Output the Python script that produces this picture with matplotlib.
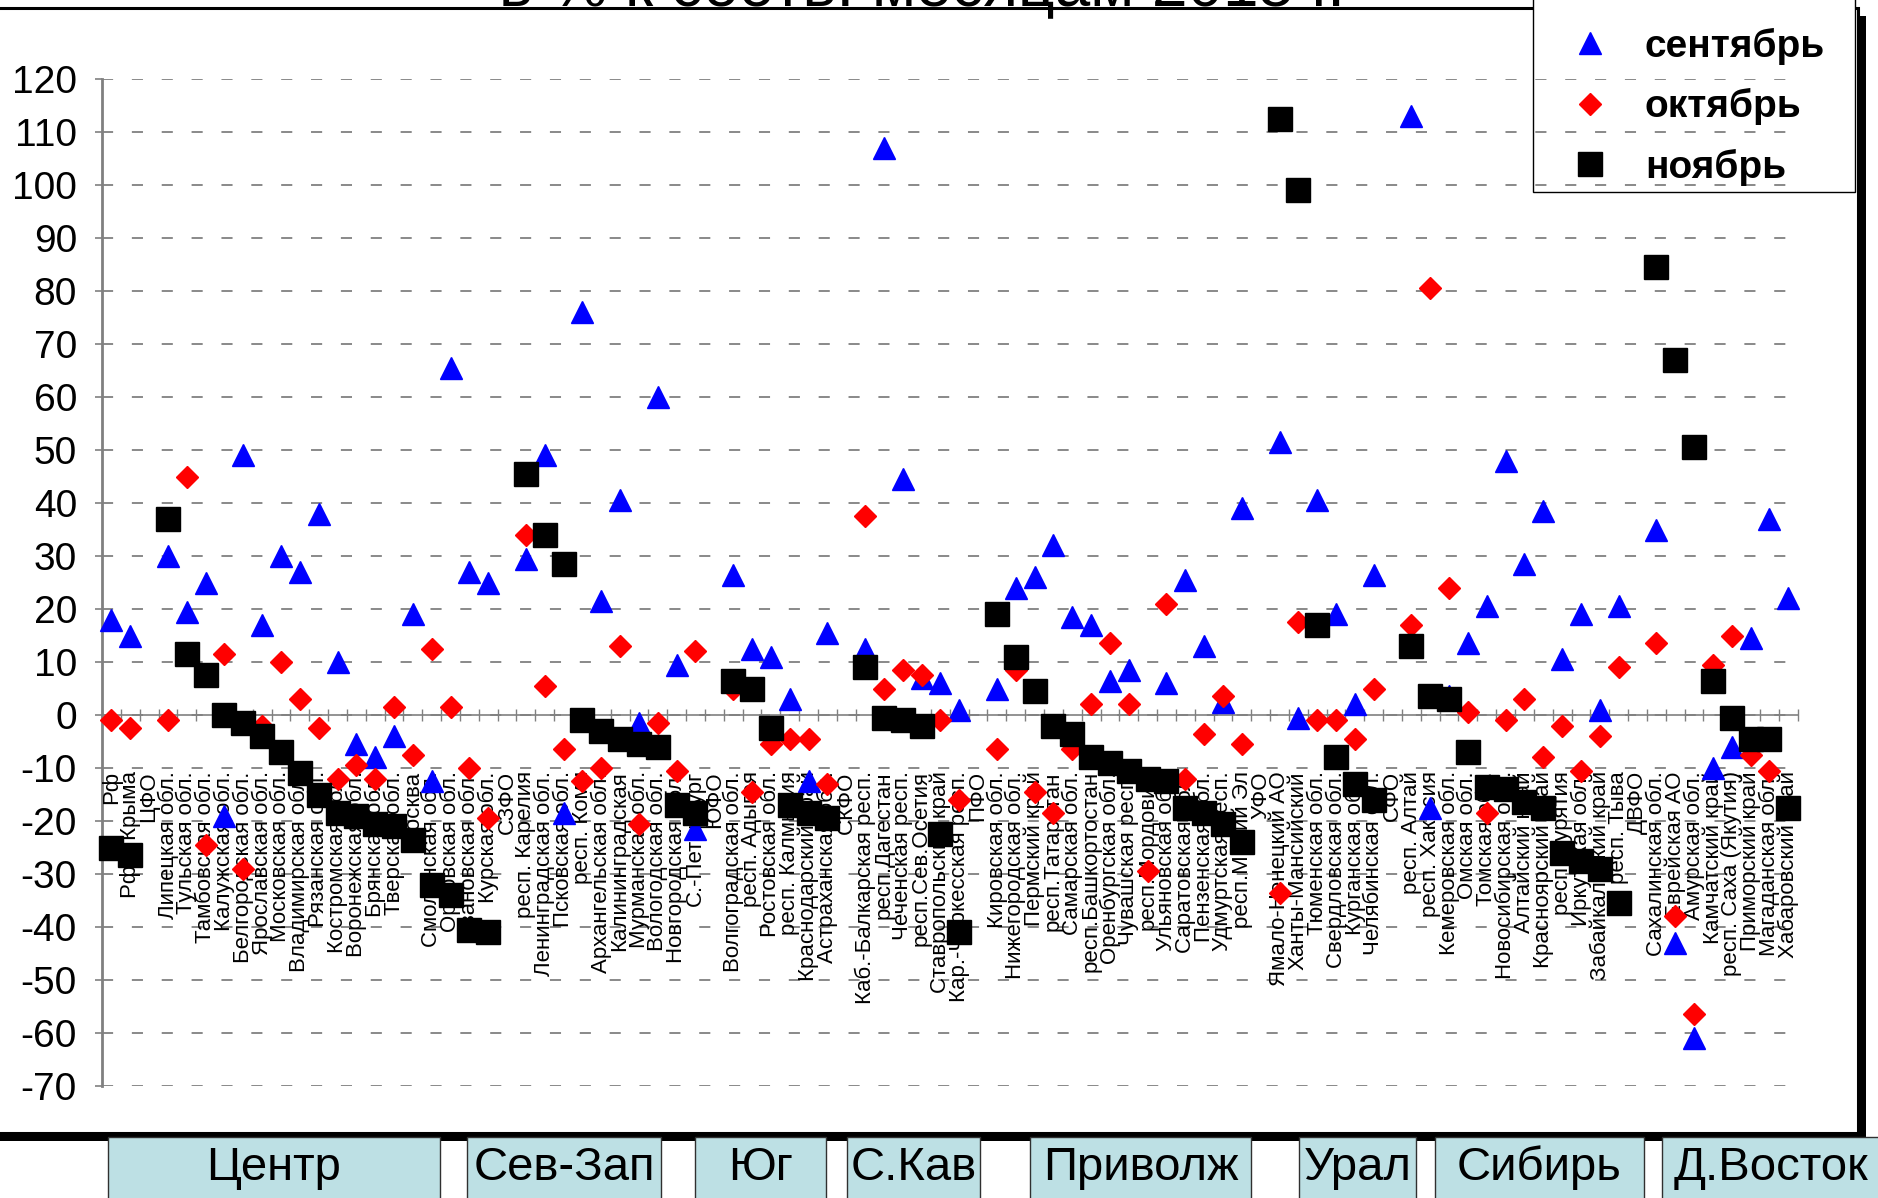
import numpy as np
import matplotlib.pyplot as plt
from matplotlib.patches import Rectangle

plt.rcParams['font.family'] = ['Liberation Sans', 'DejaVu Sans']
plt.rcParams['axes.unicode_minus'] = False
plt.rcParams['lines.scale_dashes'] = False

nan = np.nan

# regions (district rows have no data)
categories = [
    'Рф', 'Рф б Крыма', 'ЦФО', 'Липецкая обл.', 'Тульская обл.', 'Тамбовская обл.',
    'Калужская обл.', 'Белгородская обл.', 'Ярославская обл.', 'Московская обл.',
    'Владимирская обл.', 'Рязанская обл.', 'Костромская обл.', 'Воронежская обл.',
    'Брянская обл.', 'Тверская обл.', 'Москва', 'Смоленская обл.', 'Орловская обл.',
    'Ивановская обл.', 'Курская обл.', 'СЗФО', 'респ. Карелия', 'Ленинградская обл.',
    'Псковская обл.', 'респ. Коми', 'Архангельская обл.', 'Калининградская',
    'Мурманская обл.', 'Вологодская обл.', 'Новгородская обл.', 'С.-Петербург', 'ЮФО',
    'Волгоградская обл.', 'респ. Адыгея', 'Ростовская обл.', 'респ. Калмыкия',
    'Краснодарский край', 'Астраханская обл.', 'СКФО', 'Каб.-Балкарская респ.',
    'респ.Дагестан', 'Чеченская респ.', 'респ.Сев.Осетия', 'Ставропольский край',
    'Кар.-Черкесская респ.', 'ПФО', 'Кировская обл.', 'Нижегородская обл.',
    'Пермский край', 'респ.Татарстан', 'Самарская обл.', 'респ.Башкортостан',
    'Оренбургская обл.', 'Чувашская респ.', 'респ.Мордовия', 'Ульяновская обл.',
    'Саратовская обл.', 'Пензенская обл.', 'Удмуртская респ.', 'респ.Марий Эл', 'УФО',
    'Ямало-Ненецкий АО', 'Ханты-Мансийский', 'Тюменская обл.', 'Свердловская обл.',
    'Курганская обл.', 'Челябинская обл.', 'СФО', 'респ. Алтай', 'респ. Хакасия',
    'Кемеровская обл.', 'Омская обл.', 'Томская обл.', 'Новосибирская обл.',
    'Алтайский край', 'Красноярский край', 'респ. Бурятия', 'Иркутская обл.',
    'Забайкальский край', 'респ. Тыва', 'ДВФО', 'Сахалинская обл.', 'Еврейская АО',
    'Амурская обл.', 'Камчатский край', 'респ. Саха (Якутия)', 'Приморский край',
    'Магаданская обл.', 'Хабаровский край',
]

sep = [18, 15, nan, 30, 19.5, 25, -19, 49, 17, 30,
       27, 38, 10, -5.5, -8, -4, 19, -12.5, 65.5, 27,
       25, nan, 29.5, 49, -18.5, 76, 21.5, 40.5, -1.5, 60,
       9.5, -21.5, nan, 26.5, 12.5, 11, 3, -12.5, 15.5, nan,
       12.5, 107, 44.5, 7, 6, 1, nan, 5, 24, 26,
       32, 18.5, 17, 6.5, 8.5, -12, 6, 25.5, 13, 2.5,
       39, nan, 51.5, -0.5, 40.5, 19, 2, 26.5, nan, 113,
       -17.5, 3.5, 13.5, 20.5, 48, 28.5, 38.5, 10.5, 19, 1,
       20.5, nan, 35, -43, -61, -10, -6, 14.5, 37, 22]

octo = [-1, -2.5, nan, -1, 45, -24.5, 11.5, -29, -2, 10,
        3, -2.5, -12, -9.5, -12, 1.5, -7.5, 12.5, 1.5, -10,
        -19.5, nan, 34, 5.5, -6.5, -12.5, -10, 13, -20.5, -1.5,
        -10.5, 12, nan, 5, -14.5, -5.5, -4.5, -4.5, -13, nan,
        37.5, 5, 8.5, 7.5, -1, -16, nan, -6.5, 8.5, -14.5,
        -18.5, -6.5, 2, 13.5, 2, -29.5, 21, -12, -3.5, 3.5,
        -5.5, nan, -33.5, 17.5, -1, -1, -4.5, 5, nan, 17,
        80.5, 24, 0.5, -18.5, -1, 3, -8, -2, -10.5, -4,
        9, nan, 13.5, -38, -56.5, 9.5, 15, -7.5, -10.5, -17.5]

nov = [-25, -26.5, nan, 37, 11.5, 7.5, 0, -1.5, -4, -7,
       -11, -15, -18.5, -19, -20.5, -21, -23.5, -32, -34, -40.5,
       -41, nan, 45.5, 34, 28.5, -1, -3, -4.5, -5.5, -6,
       -17, -18.5, nan, 6.5, 5, -2.5, -17, -18.5, -19.5, nan,
       9, -0.5, -1, -2, -22.5, -41, nan, 19, 11, 4.5,
       -2, -3.5, -8, -9, -10.5, -12, -12.5, -17.5, -18.5, -20.5,
       -24, nan, 112.5, 99, 17, -8, -13, -16, nan, 13,
       3.5, 3, -7, -13.5, -14, -16.5, -17.5, -26, -27.5, -29,
       -35.5, nan, 84.5, 67, 50.5, 6.5, -0.5, -4.5, -4.5, -17.5]

districts = ['Центр', 'Сев-Зап', 'Юг', 'С.Кав', 'Приволж', 'Урал', 'Сибирь', 'Д.Восток']
district_px = [(108, 440), (467, 661), (695, 826), (847, 980),
               (1030, 1251), (1299, 1416), (1435, 1644), (1662, 1880)]

W, H = 1878, 1198
fx = lambda px: px / W
fy = lambda py: 1 - py / H

fig = plt.figure(figsize=(W / 100, H / 100), dpi=100)
fig.patch.set_facecolor('white')

# chart frame with shadow
fig.patches.append(Rectangle((fx(-10), fy(1141)), fx(1876), fy(16) - fy(1141),
                             transform=fig.transFigure, facecolor='black', edgecolor='none', zorder=0))
fig.patches.append(Rectangle((fx(-10), fy(1133)), fx(1868), fy(8) - fy(1133),
                             transform=fig.transFigure, facecolor='white', edgecolor='black',
                             lw=2.2, zorder=1))

# title (cut at the top of the picture)
fig.text(fx(922), fy(6), 'в % к соотв. месяцам 2015 г.', fontsize=46, ha='center',
         va='baseline', zorder=2)

ax = fig.add_axes([fx(102), fy(1086), fx(1797.6) - fx(102), fy(79) - fy(1086)])
ax.set_facecolor('none')
ax.set_zorder(3)

x = np.arange(1, len(categories) + 1)
ax.plot(x, sep, linestyle='none', marker='^', ms=16, color='#0000ff', mec='#0000ff',
        label='сентябрь', zorder=4, clip_on=False)
ax.plot(x, octo, linestyle='none', marker='D', ms=11.5, color='#ff0000', mec='#ff0000',
        label='октябрь', zorder=5, clip_on=False)
ax.plot(x, nov, linestyle='none', marker='s', ms=17, color='black', mec='black',
        label='ноябрь', zorder=6, clip_on=False)

ax.set_xlim(0.5, len(categories) + 0.5)
ax.set_ylim(-70, 120)
ax.set_yticks(range(-70, 121, 10))
ax.tick_params(axis='y', labelsize=28, length=5, width=1.2, color='#808080', pad=13)
ax.set_xticks(np.arange(0.5, len(categories) + 1, 1))
ax.set_xticklabels([])
ax.tick_params(axis='x', direction='inout', length=8, width=1, color='#808080')
ax.yaxis.grid(True, color='#808080', lw=1.3, linestyle=(0, (8, 13.5)))
ax.set_axisbelow(True)

for s in ['top', 'right']:
    ax.spines[s].set_visible(False)
ax.spines['left'].set_color('#808080')
ax.spines['left'].set_linewidth(2)
ax.spines['bottom'].set_position(('data', 0))
ax.spines['bottom'].set_color('#808080')
ax.spines['bottom'].set_linewidth(1.2)

for xi, name in zip(x, categories):
    ax.text(xi, -10.6, name, rotation=90, ha='center', va='top', fontsize=16, zorder=3)

# legend
fig.patches.append(Rectangle((fx(1533), fy(192)), fx(1855) - fx(1533), fy(-20) - fy(192),
                             transform=fig.transFigure, facecolor='white', edgecolor='black',
                             lw=1, zorder=2))
fig.legend(loc='upper left', bbox_to_anchor=(fx(1571), fy(28)), frameon=False,
           prop={'size': 28, 'weight': 'bold'}, handlelength=1.0, handletextpad=0.9,
           labelspacing=0.6, borderpad=0, borderaxespad=0)

# district boxes
for name, (x0, x1) in zip(districts, district_px):
    fig.patches.append(Rectangle((fx(x0), fy(1210)), fx(x1) - fx(x0), fy(1137) - fy(1210),
                                 transform=fig.transFigure, facecolor='#bde0e4',
                                 edgecolor='#303030', lw=1, zorder=2))
    fig.text(fx((x0 + x1) / 2), fy(1168), name, fontsize=34, ha='center', va='center', zorder=3)

fig.savefig('out.png', dpi=100)
